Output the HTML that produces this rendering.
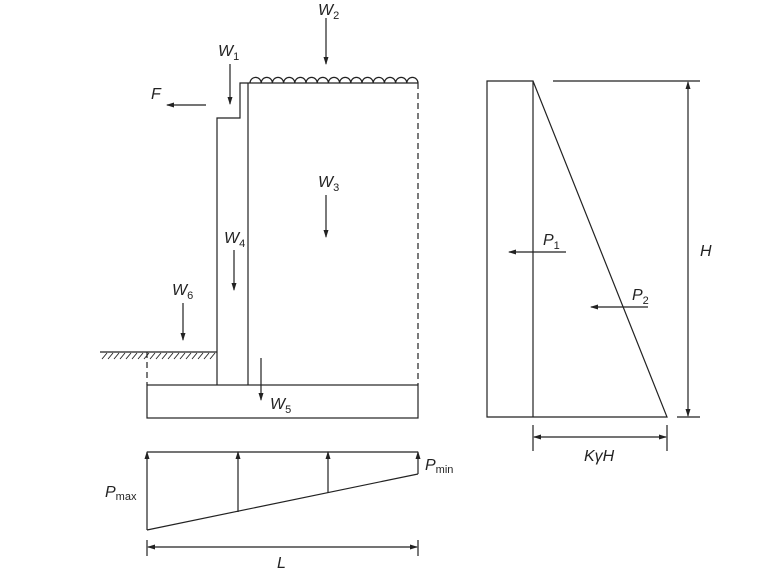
<!DOCTYPE html>
<html><head><style>body{margin:0;background:#fff}svg{display:block}text{font-family:"Liberation Sans",sans-serif;font-style:italic;fill:#222}</style></head>
<body>
<svg width="768" height="573" viewBox="0 0 768 573">
<defs><marker id="a" markerWidth="8" markerHeight="8" refX="7" refY="4" orient="auto" markerUnits="userSpaceOnUse"><path d="M0,1.5 L8,4 L0,6.5z" fill="#222"/></marker></defs>
<g stroke="#222" stroke-width="1.2" fill="none">
<!-- wall -->
<path d="M217,385 V118 H240 V83 H418"/>
<path d="M248,83 V385"/>
<rect x="147" y="385" width="271" height="33"/>
<path d="M418,83 V385" stroke-dasharray="6,4"/>
<path d="M147,352 V385" stroke-dasharray="6,4"/>
<path d="M100,352 H217"/>
<path d="M250,83 a5.6,5.6 0 0 1 11.2,0 a5.6,5.6 0 0 1 11.2,0 a5.6,5.6 0 0 1 11.2,0 a5.6,5.6 0 0 1 11.2,0 a5.6,5.6 0 0 1 11.2,0 a5.6,5.6 0 0 1 11.2,0 a5.6,5.6 0 0 1 11.2,0 a5.6,5.6 0 0 1 11.2,0 a5.6,5.6 0 0 1 11.2,0 a5.6,5.6 0 0 1 11.2,0 a5.6,5.6 0 0 1 11.2,0 a5.6,5.6 0 0 1 11.2,0 a5.6,5.6 0 0 1 11.2,0 a5.6,5.6 0 0 1 11.2,0 a5.6,5.6 0 0 1 11.2,0"/>
<path d="M102,359 l5,-6 M108,359 l5,-6 M114,359 l5,-6 M120,359 l5,-6 M126,359 l5,-6 M132,359 l5,-6 M138,359 l5,-6 M144,359 l5,-6 M150,359 l5,-6 M156,359 l5,-6 M162,359 l5,-6 M168,359 l5,-6 M174,359 l5,-6 M180,359 l5,-6 M186,359 l5,-6 M192,359 l5,-6 M198,359 l5,-6 M204,359 l5,-6 M210,359 l5,-6" stroke-width="0.9"/>
<!-- force arrows -->
<path d="M326,18 V64" marker-end="url(#a)"/>
<path d="M230,64 V104" marker-end="url(#a)"/>
<path d="M206,105 H167" marker-end="url(#a)"/>
<path d="M326,195 V237" marker-end="url(#a)"/>
<path d="M234,250 V290" marker-end="url(#a)"/>
<path d="M183,303 V340" marker-end="url(#a)"/>
<path d="M261,358 V400" marker-end="url(#a)"/>
<!-- pressure diagram -->
<path d="M147,452 H418"/>
<path d="M147,530 L418,474"/>
<path d="M147,530 V452" marker-end="url(#a)"/>
<path d="M238,512 V452" marker-end="url(#a)"/>
<path d="M328,493 V452" marker-end="url(#a)"/>
<path d="M418,474 V452" marker-end="url(#a)"/>
<path d="M147,540 V556 M418,540 V556"/>
<path d="M283,547 H148" marker-end="url(#a)"/>
<path d="M283,547 H417" marker-end="url(#a)"/>
<!-- right figure -->
<path d="M533,417 H487 V81 H533 V417 H667 L533,81"/>
<path d="M553,81 H700 M677,417 H700"/>
<path d="M688,250 V82" marker-end="url(#a)"/>
<path d="M688,250 V416" marker-end="url(#a)"/>
<path d="M533,425 V451 M667,425 V451"/>
<path d="M600,437 H534" marker-end="url(#a)"/>
<path d="M600,437 H666" marker-end="url(#a)"/>
<path d="M566,252 H509" marker-end="url(#a)"/>
<path d="M648,307 H591" marker-end="url(#a)"/>
</g>
<g font-size="16">
<text x="318" y="15">W<tspan font-size="11" dy="4" font-style="normal">2</tspan></text>
<text x="218" y="56">W<tspan font-size="11" dy="4" font-style="normal">1</tspan></text>
<text x="151" y="99">F</text>
<text x="318" y="187">W<tspan font-size="11" dy="4" font-style="normal">3</tspan></text>
<text x="224" y="243">W<tspan font-size="11" dy="4" font-style="normal">4</tspan></text>
<text x="172" y="295">W<tspan font-size="11" dy="4" font-style="normal">6</tspan></text>
<text x="270" y="409">W<tspan font-size="11" dy="4" font-style="normal">5</tspan></text>
<text x="105" y="497">P<tspan font-size="11" dy="3" font-style="normal">max</tspan></text>
<text x="425" y="470">P<tspan font-size="11" dy="3" font-style="normal">min</tspan></text>
<text x="277" y="568">L</text>
<text x="543" y="245">P<tspan font-size="11" dy="4" font-style="normal">1</tspan></text>
<text x="632" y="300">P<tspan font-size="11" dy="4" font-style="normal">2</tspan></text>
<text x="700" y="256">H</text>
<text x="584" y="461">KγH</text>
</g>
</svg>
</body></html>
